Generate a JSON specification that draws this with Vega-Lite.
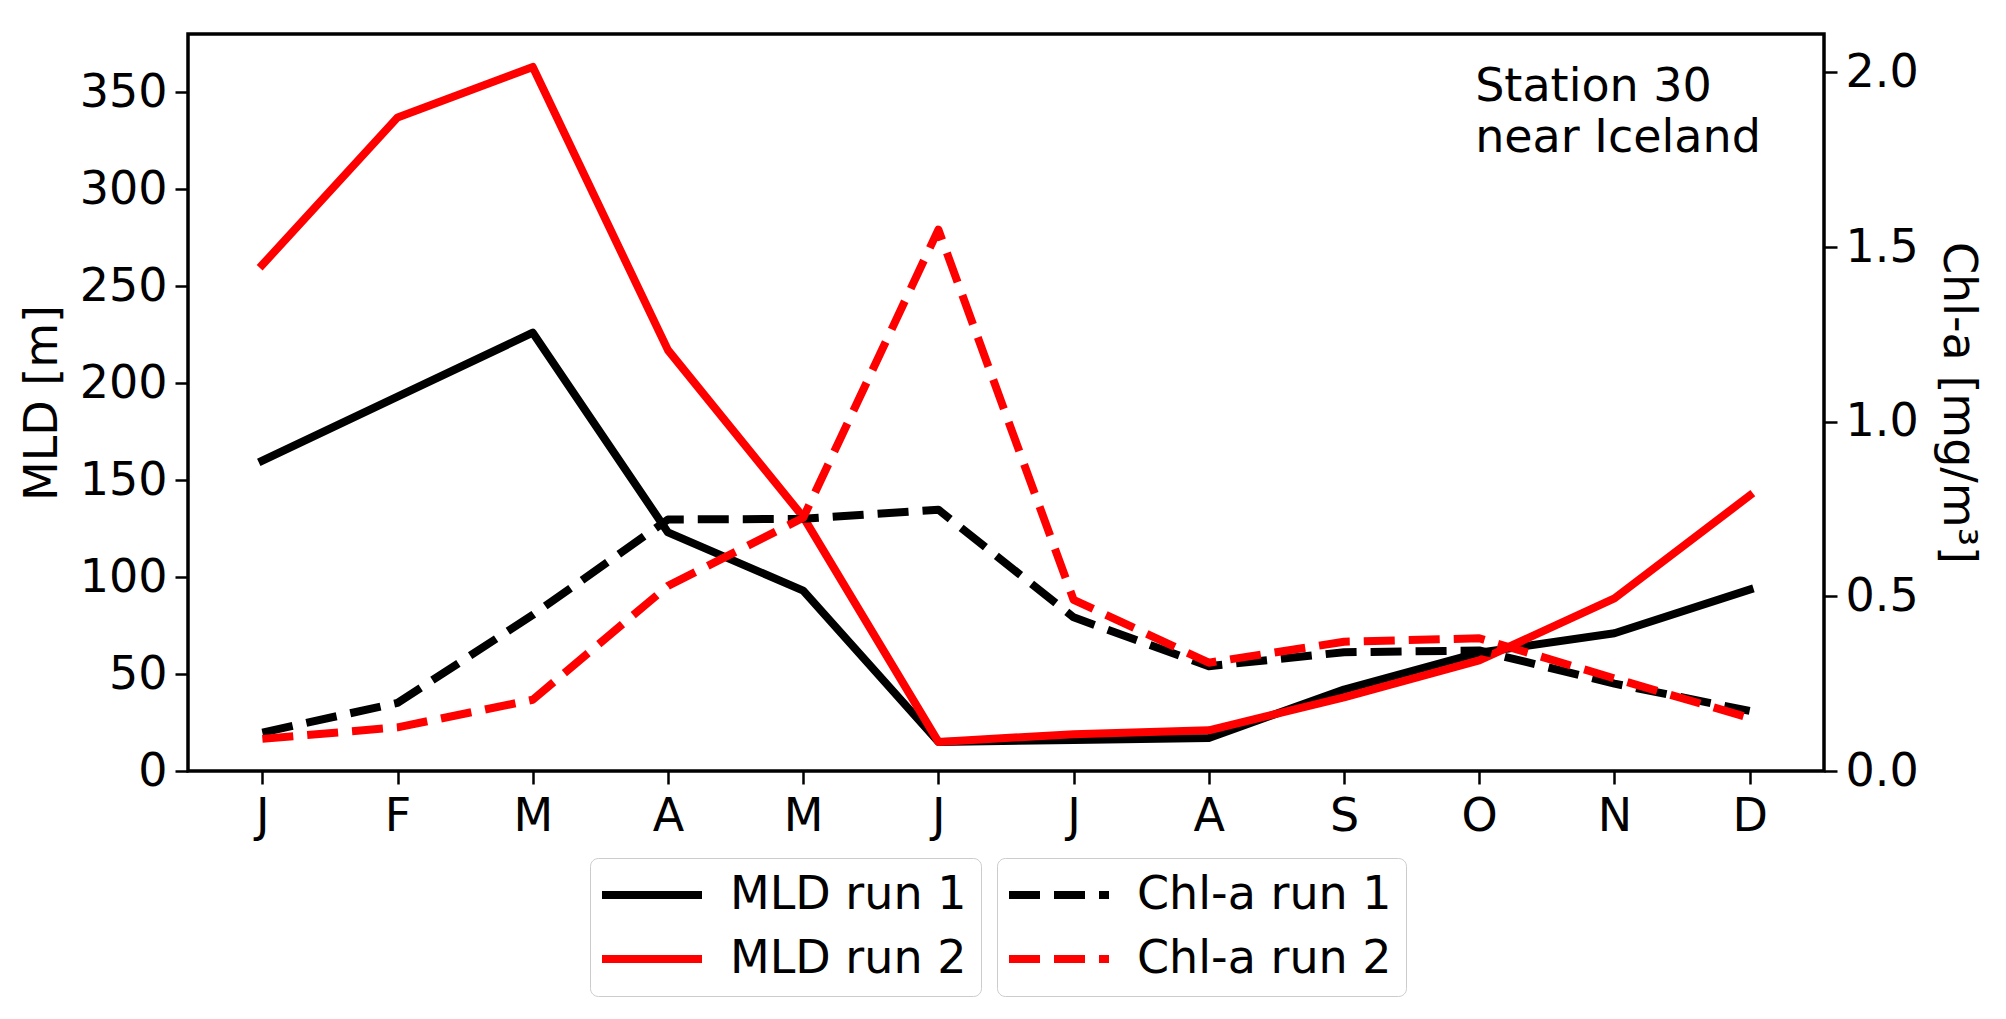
{
  "$schema": "https://vega.github.io/schema/vega-lite/v6.json",
  "width": 1636,
  "height": 737,
  "autosize": {"type": "none"},
  "padding": {"left": 188, "top": 34, "right": 182, "bottom": 248},
  "background": "white",
  "config": {
    "view": {"stroke": "black", "strokeWidth": 3.5},
    "font": "DejaVu Sans",
    "axis": {
      "labelFont": "DejaVu Sans",
      "labelFontSize": 46,
      "labelColor": "black",
      "titleFont": "DejaVu Sans",
      "titleFontSize": 46,
      "titleFontWeight": "normal",
      "titleColor": "black",
      "tickColor": "black",
      "tickSize": 13,
      "tickWidth": 2.5,
      "domain": false,
      "grid": false,
      "labelFlush": false,
      "labelOverlap": false
    },
    "legend": {
      "labelFont": "DejaVu Sans",
      "labelFontSize": 46,
      "labelColor": "black",
      "labelLimit": 0,
      "symbolType": "M-2,0H6",
      "symbolSize": 625,
      "symbolStrokeWidth": 8,
      "symbolFillColor": "transparent",
      "padding": 14,
      "strokeColor": "#cccccc",
      "fillColor": "white",
      "cornerRadius": 8,
      "labelOffset": 80,
      "rowPadding": 18
    }
  },
  "datasets": {
    "mld": [
      {"m": 0, "series": "MLD run 1", "value": 160},
      {"m": 1, "series": "MLD run 1", "value": 193},
      {"m": 2, "series": "MLD run 1", "value": 226},
      {"m": 3, "series": "MLD run 1", "value": 123},
      {"m": 4, "series": "MLD run 1", "value": 93},
      {"m": 5, "series": "MLD run 1", "value": 15},
      {"m": 6, "series": "MLD run 1", "value": 16},
      {"m": 7, "series": "MLD run 1", "value": 17},
      {"m": 8, "series": "MLD run 1", "value": 42},
      {"m": 9, "series": "MLD run 1", "value": 61},
      {"m": 10, "series": "MLD run 1", "value": 71},
      {"m": 11, "series": "MLD run 1", "value": 93.5},
      {"m": 0, "series": "MLD run 2", "value": 261},
      {"m": 1, "series": "MLD run 2", "value": 337},
      {"m": 2, "series": "MLD run 2", "value": 363},
      {"m": 3, "series": "MLD run 2", "value": 217},
      {"m": 4, "series": "MLD run 2", "value": 131},
      {"m": 5, "series": "MLD run 2", "value": 15},
      {"m": 6, "series": "MLD run 2", "value": 19},
      {"m": 7, "series": "MLD run 2", "value": 21},
      {"m": 8, "series": "MLD run 2", "value": 38},
      {"m": 9, "series": "MLD run 2", "value": 57},
      {"m": 10, "series": "MLD run 2", "value": 89},
      {"m": 11, "series": "MLD run 2", "value": 142}
    ],
    "chl": [
      {"m": 0, "series": "Chl-a run 1", "value": 0.11},
      {"m": 1, "series": "Chl-a run 1", "value": 0.195},
      {"m": 2, "series": "Chl-a run 1", "value": 0.447},
      {"m": 3, "series": "Chl-a run 1", "value": 0.72},
      {"m": 4, "series": "Chl-a run 1", "value": 0.722},
      {"m": 5, "series": "Chl-a run 1", "value": 0.748},
      {"m": 6, "series": "Chl-a run 1", "value": 0.44},
      {"m": 7, "series": "Chl-a run 1", "value": 0.3},
      {"m": 8, "series": "Chl-a run 1", "value": 0.34},
      {"m": 9, "series": "Chl-a run 1", "value": 0.345},
      {"m": 10, "series": "Chl-a run 1", "value": 0.25},
      {"m": 11, "series": "Chl-a run 1", "value": 0.172},
      {"m": 0, "series": "Chl-a run 2", "value": 0.092},
      {"m": 1, "series": "Chl-a run 2", "value": 0.125},
      {"m": 2, "series": "Chl-a run 2", "value": 0.204},
      {"m": 3, "series": "Chl-a run 2", "value": 0.53},
      {"m": 4, "series": "Chl-a run 2", "value": 0.725},
      {"m": 5, "series": "Chl-a run 2", "value": 1.55},
      {"m": 6, "series": "Chl-a run 2", "value": 0.49},
      {"m": 7, "series": "Chl-a run 2", "value": 0.31},
      {"m": 8, "series": "Chl-a run 2", "value": 0.37},
      {"m": 9, "series": "Chl-a run 2", "value": 0.38},
      {"m": 10, "series": "Chl-a run 2", "value": 0.265},
      {"m": 11, "series": "Chl-a run 2", "value": 0.152}
    ]
  },
  "layer": [
    {
      "layer": [
        {
          "data": {"name": "mld"},
          "mark": {"type": "line", "strokeWidth": 8, "strokeCap": "square", "strokeJoin": "round"},
          "encoding": {
            "x": {
              "field": "m",
              "type": "quantitative",
              "scale": {"domain": [-0.55, 11.55], "nice": false, "zero": false},
              "axis": {
                "title": null,
                "values": [0, 1, 2, 3, 4, 5, 6, 7, 8, 9, 10, 11],
                "labelExpr": "['J','F','M','A','M','J','J','A','S','O','N','D'][datum.value]",
                "labelPadding": 10
              }
            },
            "y": {
              "field": "value",
              "type": "quantitative",
              "scale": {"domain": [0, 380], "nice": false, "zero": false},
              "axis": {
                "title": "MLD [m]",
                "values": [0, 50, 100, 150, 200, 250, 300, 350],
                "labelPadding": 8,
                "titleX": -146,
                "titleY": 368.5,
                "titleAlign": "center",
                "titleBaseline": "middle",
                "titleAngle": -90
              }
            },
            "color": {
              "field": "series",
              "type": "nominal",
              "scale": {"domain": ["MLD run 1", "MLD run 2"], "range": ["#000000", "#ff0000"]},
              "legend": {"title": null, "orient": "none", "legendX": 402, "legendY": 824}
            },
            "order": {"field": "m"}
          }
        },
        {
          "data": {"values": [{"note": "Station 30\nnear Iceland"}]},
          "mark": {"type": "text", "align": "left", "baseline": "alphabetic", "lineBreak": "\n", "lineHeight": 51, "fontSize": 46, "font": "DejaVu Sans", "color": "black"},
          "encoding": {
            "x": {"datum": 8.97, "type": "quantitative"},
            "y": {"datum": 345.6, "type": "quantitative"},
            "text": {"field": "note"}
          }
        }
      ]
    },
    {
      "data": {"name": "chl"},
      "mark": {"type": "line", "strokeWidth": 8, "strokeDash": [31, 14], "strokeCap": "butt", "strokeJoin": "round"},
      "encoding": {
        "x": {"field": "m", "type": "quantitative"},
        "y": {
          "field": "value",
          "type": "quantitative",
          "scale": {"domain": [0, 2.11], "nice": false, "zero": false},
          "axis": {
            "orient": "right",
            "title": "Chl-a [mg/m³]",
            "values": [0, 0.5, 1, 1.5, 2],
            "format": ".1f",
            "labelPadding": 8,
            "titleX": 133,
            "titleY": 368.5,
            "titleAlign": "center",
            "titleBaseline": "middle",
            "titleAngle": 90
          }
        },
        "color": {
          "field": "series",
          "type": "nominal",
          "scale": {"domain": ["Chl-a run 1", "Chl-a run 2"], "range": ["#000000", "#ff0000"]},
          "legend": {"title": null, "orient": "none", "legendX": 809, "legendY": 824, "symbolDash": [31, 14]}
        },
        "order": {"field": "m"}
      }
    }
  ],
  "resolve": {"scale": {"y": "independent", "color": "independent"}}
}
